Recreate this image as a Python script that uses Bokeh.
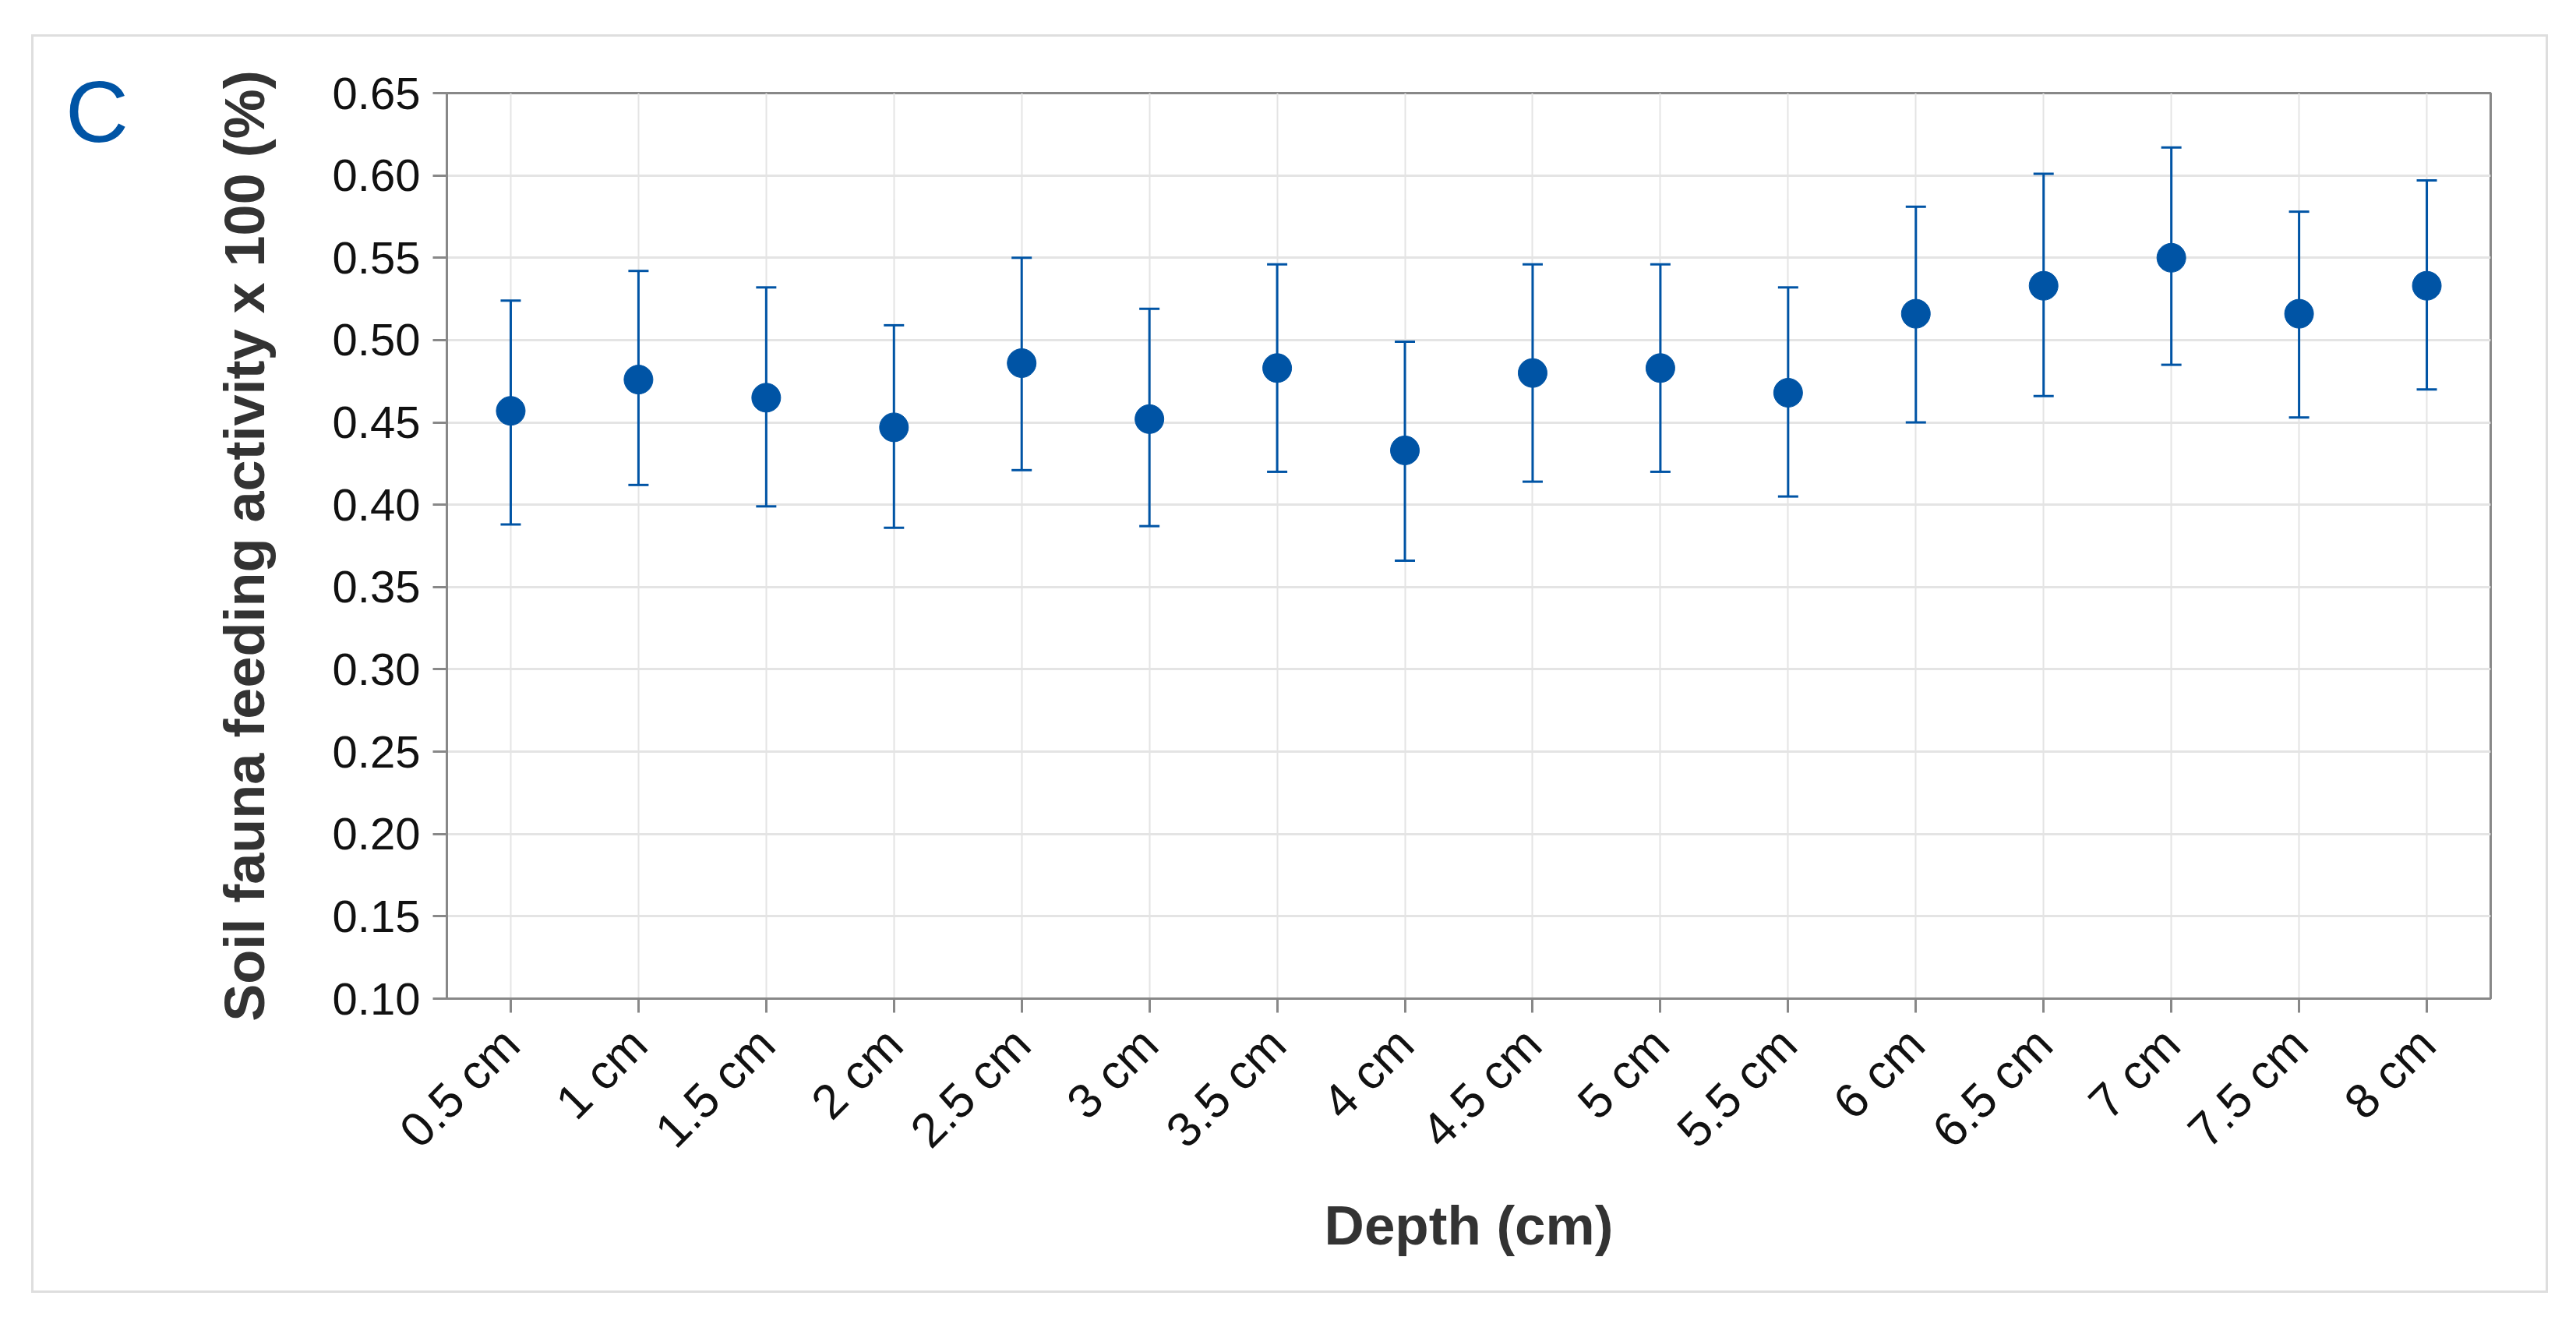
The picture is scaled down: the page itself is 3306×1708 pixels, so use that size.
import math
from bokeh.plotting import figure
from bokeh.models import (ColumnDataSource, FactorRange, Range1d, FixedTicker,
                          NumeralTickFormatter, Whisker, TeeHead, Div)
from bokeh.embed import file_html
from bokeh.resources import INLINE

depths = ["0.5 cm", "1 cm", "1.5 cm", "2 cm", "2.5 cm", "3 cm", "3.5 cm", "4 cm",
          "4.5 cm", "5 cm", "5.5 cm", "6 cm", "6.5 cm", "7 cm", "7.5 cm", "8 cm"]
means = [0.457, 0.476, 0.465, 0.447, 0.486, 0.452, 0.483, 0.433,
         0.480, 0.483, 0.468, 0.516, 0.533, 0.550, 0.516, 0.533]
upper = [0.524, 0.542, 0.532, 0.509, 0.550, 0.519, 0.546, 0.499,
         0.546, 0.546, 0.532, 0.581, 0.601, 0.617, 0.578, 0.597]
lower = [0.388, 0.412, 0.399, 0.386, 0.421, 0.387, 0.420, 0.366,
         0.414, 0.420, 0.405, 0.450, 0.466, 0.485, 0.453, 0.470]
y_ticks = [0.10, 0.15, 0.20, 0.25, 0.30, 0.35, 0.40, 0.45, 0.50, 0.55, 0.60, 0.65]
panel_letter = "C"

BLUE = "#0054A5"
AXIS = "#888888"
GRID = "#e4e4e4"
FONT = "Liberation Sans"

src = ColumnDataSource(dict(x=depths, mean=means, upper=upper, lower=lower))

p = figure(width=3224, height=1609,
           x_range=FactorRange(*depths, range_padding=0),
           y_range=Range1d(0.10, 0.65),
           output_backend="svg", toolbar_location=None,
           min_border_left=530, min_border_right=71,
           min_border_top=72, min_border_bottom=375)
p.margin = (47, 0, 0, 43)
p.styles = {"outline": "3px solid #dedede"}

p.outline_line_color = AXIS
p.outline_line_width = 3
p.background_fill_color = "white"
p.border_fill_color = "white"

p.xgrid.grid_line_color = GRID
p.xgrid.grid_line_width = 2
p.ygrid.grid_line_color = GRID
p.ygrid.grid_line_width = 3
p.ygrid.ticker = FixedTicker(ticks=y_ticks)

for ax in (p.xaxis[0], p.yaxis[0]):
    ax.axis_line_color = AXIS
    ax.axis_line_width = 3
    ax.major_tick_line_color = AXIS
    ax.major_tick_line_width = 3
    ax.major_tick_out = 18
    ax.major_tick_in = 0
    ax.minor_tick_line_color = None
    ax.major_label_text_font = FONT
    ax.major_label_text_color = "#111111"
    ax.axis_label_text_font = FONT
    ax.axis_label_text_font_style = "bold"
    ax.axis_label_text_color = "#333333"

p.yaxis.ticker = FixedTicker(ticks=y_ticks)
p.yaxis.formatter = NumeralTickFormatter(format="0.00")
p.yaxis.major_label_text_font_size = "58px"
p.yaxis.major_label_standoff = 16
p.yaxis.axis_label = "Soil fauna feeding activity x 100 (%)"
p.yaxis.axis_label_text_font_size = "72px"
p.yaxis.axis_label_standoff = 70

p.xaxis.major_label_orientation = math.pi / 4
p.xaxis.major_label_text_font_size = "62px"
p.xaxis.major_label_standoff = 30
p.xaxis.axis_label = "Depth (cm)"
p.xaxis.axis_label_text_font_size = "71px"
p.xaxis.axis_label_standoff = 20

w = Whisker(base="x", upper="upper", lower="lower", source=src, dimension="height",
            line_color=BLUE, line_width=3,
            upper_head=TeeHead(size=26, line_color=BLUE, line_width=3),
            lower_head=TeeHead(size=26, line_color=BLUE, line_width=3))
p.add_layout(w)

p.scatter(x="x", y="mean", source=src, size=37, fill_color=BLUE, line_color=BLUE,
          line_width=1)

letter = Div(text=panel_letter, width=130, height=130,
             styles={"position": "absolute", "left": "84px", "top": "88px",
                     "font-family": FONT, "font-size": "112px", "color": BLUE,
                     "line-height": "1", "margin": "0", "padding": "0"})

open("out.html", "w").write(file_html([p, letter], INLINE))
